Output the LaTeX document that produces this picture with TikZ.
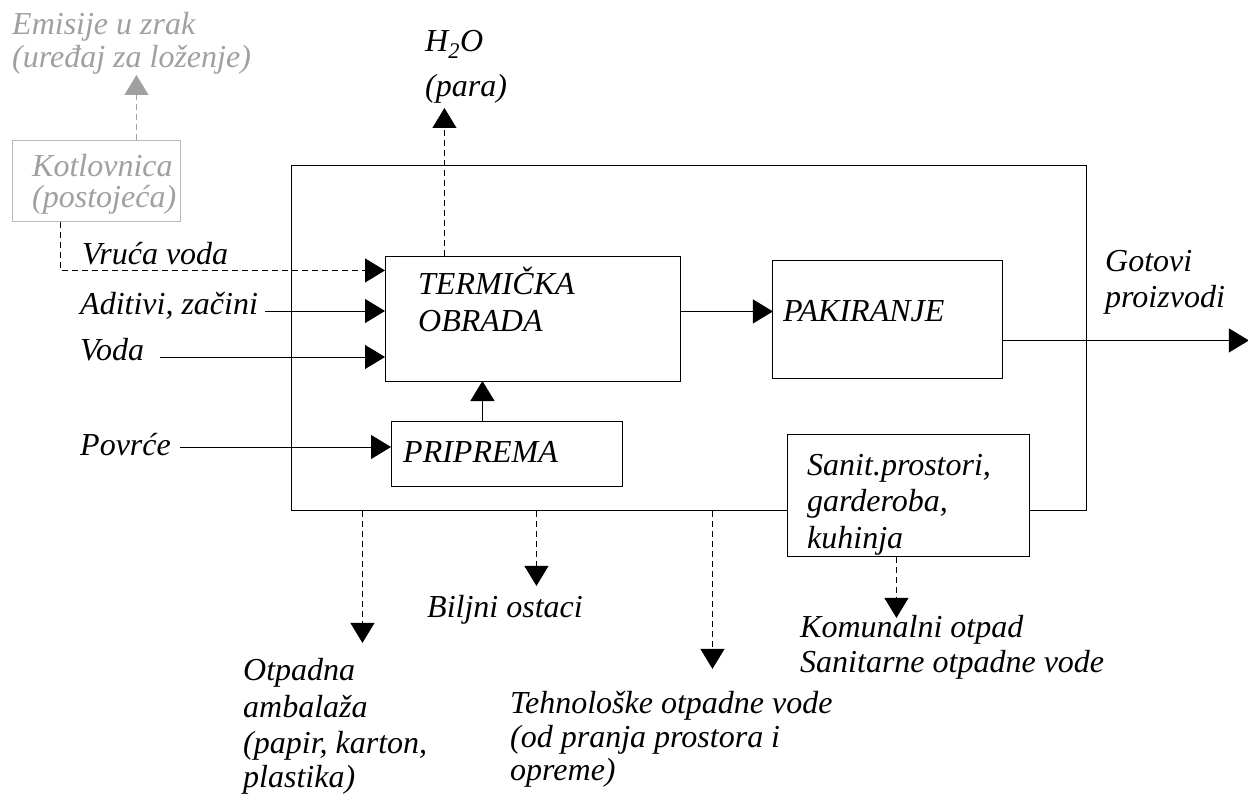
\documentclass[tikz,border=0pt]{standalone}
\usepackage{fontspec}
\setmainfont{Liberation Serif}[ItalicFont={Liberation Serif Italic}]
\usetikzlibrary{arrows.meta,positioning}
\definecolor{siva}{RGB}{160,160,160}
\definecolor{svijetla}{RGB}{185,185,185}
\tikzset{
  blok/.style={draw,line width=0.9pt,fill=white,inner sep=0pt,anchor=north west},
  tekst/.style={inner sep=0pt,anchor=base west,align=left,
    font=\rmfamily\fontsize{32}{36}\selectfont\itshape},
  tok/.style={line width=0.9pt,-{Triangle[length=20pt,width=24pt]}},
  isprek/.style={dash pattern=on 6pt off 4pt}
}

\begin{document}
\begin{tikzpicture}[x=1pt,y=-1pt]
  \useasboundingbox (0,0) rectangle (1248,794);
  % okvir pogona i procesi
  \node[blok,minimum width=795pt,minimum height=345pt] (pogon) at (291,165) {};
  \node[blok,minimum width=295pt,minimum height=125pt] (term) at (385,256) {};
  \node[blok,minimum width=231pt,minimum height=65pt] (prip) at (391,421) {};
  \node[blok,minimum width=230pt,minimum height=118pt] (pak) at (772,260) {};
  \node[blok,minimum width=242pt,minimum height=122pt] (san) at (787,434) {};
  \node[blok,draw=svijetla,minimum width=168pt,minimum height=81pt] (kotl) at (12,140) {};

  % (multi-line labels sit on their last baseline)
  \node[tekst] (termT) at (418,332) {TERMIČKA\\[1pt]OBRADA};
  \node[tekst] (pripT) at (403,462) {PRIPREMA};
  \node[tekst] (pakT) at (783,322) {PAKIRANJE};
  \node[tekst] (sanT) at (807,548) {Sanit.prostori,\\garderoba,\\[1pt]kuhinja};
  \node[tekst,siva] (kotlT) at (32,208) {Kotlovnica\\[-5pt](postojeća)};

  % ulazi
  \node[tekst] (vruca) at (82,265) {Vruća voda};
  \node[tekst] (adit) at (80,315) {Aditivi, začini};
  \node[tekst] (voda) at (80,361) {Voda};
  \node[tekst] (povrce) at (80,455) {Povrće};
  \coordinate (aditL) at (265,311);
  \coordinate (vodaL) at (160,357);
  \coordinate (povL) at (180,447);

  % izlazi
  \node[tekst,siva] (emis) at (12,68) {Emisije u zrak\\[-3pt](uređaj za loženje)};
  \node[tekst] (para) at (425,97) {H\textsubscript{2}O\\[9pt](para)};
  \node[tekst] (gotovi) at (1105,308) {Gotovi\\proizvodi};
  \node[tekst] (otpadna) at (243,787) {Otpadna\\[1pt]ambalaža\\(papir, karton,\\[-2pt]plastika)};
  \node[tekst] (biljni) at (427,617) {Biljni ostaci};
  \node[tekst] (tehno) at (510,780) {Tehnološke otpadne vode\\[-2pt](od pranja prostora i\\[-3pt]opreme)};
  \node[tekst] (komun) at (800,672) {Komunalni otpad\\[-1pt]Sanitarne otpadne vode};

  % tokovi
  \draw[tok,isprek] ([xshift=-36pt]kotl.south) |- ([yshift=48.5pt]term.west);
  \draw[tok] (aditL) -- (aditL -| term.west);
  \draw[tok] (vodaL) -- (vodaL -| term.west);
  \draw[tok] (povL) -- (povL -| prip.west);
  \draw[tok] ([xshift=-24.5pt]prip.north) -- ++(0,-40);
  \draw[tok] ([yshift=7.5pt]term.east) -- ++(92,0);
  \draw[tok] ([yshift=-21pt]pak.east) -- ++(246,0);
  \draw[tok,isprek,siva] ([xshift=40pt]kotl.north) -- ++(0,-65);
  \draw[tok,isprek] ([xshift=-88.5pt]term.north) -- ++(0,-148);
  \draw[tok,isprek] ([xshift=-12pt]san.south) -- ++(0,61);
  \foreach \dx/\len in {-326.5/132,-152.5/75,23.5/158}
    \draw[tok,isprek] ([xshift=\dx pt]pogon.south) -- ++(0,\len);
\end{tikzpicture}
\end{document}
